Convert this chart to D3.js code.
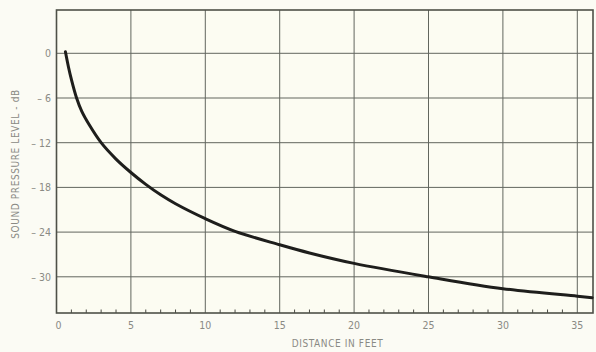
<!DOCTYPE html>
<html><head><meta charset="utf-8">
<script src="https://cdn.jsdelivr.net/npm/d3@7"></script>
<style>
body{margin:0;background:#fbfbf4;}
svg{display:block;}
text{font-family:"DejaVu Sans Condensed","Liberation Sans Narrow",sans-serif;fill:#8a8a84;}
</style></head>
<body><svg id="c" width="596" height="352"></svg>
<script>
const distance = [0.6, 0.8, 1.0, 1.35, 1.7, 2.2, 3.0, 4.0, 5, 6, 7, 8, 10, 12, 15, 17, 20, 25, 30, 35, 36];
const spl = [0.2, -1.8, -3.5, -6, -7.8, -9.6, -12, -14.2, -16.0, -17.6, -19.0, -20.2, -22.2, -23.9, -25.7, -26.8, -28.2, -30.0, -31.6, -32.6, -32.8];
const xTicks = [0, 5, 10, 15, 20, 25, 30, 35];
const yTicks = [0, -6, -12, -18, -24, -30];
const xTickLabels = ["0", "5", "10", "15", "20", "25", "30", "35"];
const yTickLabels = ["0", "-6", "-12", "-18", "-24", "-30"];
const xTitle = "DISTANCE IN FEET";
const yTitle = "SOUND PRESSURE LEVEL - dB";

const svg = d3.select("#c");
const L = 56.5, R = 593, T = 10, B = 313;
const x = d3.scaleLinear().domain([0, 36]).range([L, L + 36 * 14.88]);
const y = d3.scaleLinear().domain([6, -35]).range([8.6, 8.6 + 41 * 7.45]);

svg.append("rect").attr("x", L).attr("y", T).attr("width", R - L).attr("height", B - T)
  .attr("fill", "#fcfcf2");

// grid
const g = svg.append("g");
g.selectAll(".vx").data(xTicks.filter(d => d > 0)).join("line")
  .attr("x1", d => x(d)).attr("x2", d => x(d)).attr("y1", T).attr("y2", B)
  .attr("stroke", "#62665e").attr("stroke-width", 1);
g.selectAll(".hy").data(yTicks).join("line")
  .attr("x1", L).attr("x2", R).attr("y1", d => y(d)).attr("y2", d => y(d))
  .attr("stroke", "#62665e").attr("stroke-width", 1);

// minor ticks along bottom
const minor = d3.range(1, 36).filter(d => d % 5 !== 0);
g.selectAll(".mt").data(minor).join("line")
  .attr("x1", d => x(d)).attr("x2", d => x(d)).attr("y1", B).attr("y2", B - 3.5)
  .attr("stroke", "#4a4a44").attr("stroke-width", 1);

// frame
svg.append("rect").attr("x", L).attr("y", T).attr("width", R - L).attr("height", B - T)
  .attr("fill", "none").attr("stroke", "#4e5048").attr("stroke-width", 1.6);

// curve
svg.append("path").datum(distance.map((d, i) => [d, spl[i]]))
  .attr("d", d3.line().x(d => x(d[0])).y(d => y(d[1])).curve(d3.curveCatmullRom.alpha(0.5)))
  .attr("fill", "none").attr("stroke", "#1e1e1c").attr("stroke-width", 3).attr("stroke-linecap", "round");

// tick labels
svg.selectAll(".xl").data(xTicks).join("text")
  .attr("x", (d, i) => i === 0 ? x(d) + 2 : x(d)).attr("y", 329)
  .attr("text-anchor", "middle").attr("font-size", 10.5)
  .text((d, i) => xTickLabels[i]);
svg.selectAll(".yl").data(yTicks).join("text")
  .attr("x", 51).attr("y", d => y(d) + 4)
  .attr("text-anchor", "end").attr("font-size", 10.5)
  .text((d, i) => yTickLabels[i].replace("-", "\u2013 "));

svg.append("text").attr("x", 337.5).attr("y", 347).attr("text-anchor", "middle")
  .attr("font-size", 10).attr("letter-spacing", 0.6).text(xTitle);
svg.append("text").attr("transform", "translate(19,164) rotate(-90)").attr("text-anchor", "middle")
  .attr("font-size", 10).attr("letter-spacing", 0.6).text(yTitle);
</script></body></html>
